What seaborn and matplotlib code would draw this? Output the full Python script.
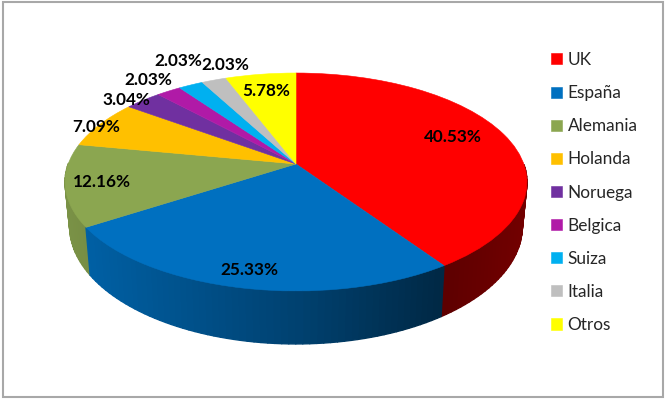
import numpy as np
import matplotlib
matplotlib.use('Agg')
import matplotlib.pyplot as plt
import matplotlib.transforms as mtrans
from matplotlib.collections import PolyCollection
from matplotlib.patches import Rectangle
import seaborn as sns

# datos
countries = ['UK', 'España', 'Alemania', 'Holanda', 'Noruega', 'Belgica', 'Suiza', 'Italia', 'Otros']
shares = [40.53, 25.33, 12.16, 7.09, 3.04, 2.03, 2.03, 2.03, 5.78]
slice_colors = ['#FF0000', '#0070C0', '#8BA650', '#FFC000', '#7030A0', '#B01AA7', '#00B0F0', '#BFBFBF', '#FFFF00']

# posicion de las etiquetas en pixeles
label_x = [453, 249, 102, 96, 126, 148, 178, 225, 266]
label_y = [137, 270, 182, 127, 100, 80, 61, 65, 91]

# perspectiva del disco: centro (296,164), en pixeles
CX, CY = 296, 164
A, B, K = 227.8, 106.0, 0.165


class DiscProjection(mtrans.Transform):
    input_dims = output_dims = 2

    def transform_non_affine(self, xy):
        xy = np.asarray(xy)
        w = 1 + K * xy[:, 1]
        return np.column_stack([CX + A * xy[:, 0] / w, CY - B * xy[:, 1] / w])


def to_bottom(xy):
    # cara inferior del cilindro
    x = CX + 0.98 * (xy[:, 0] - CX)
    y = xy[:, 1] + 53 - (291 - xy[:, 1]) * 0.08
    return np.column_stack([x, y])


def side_shade(x):
    return np.interp(x, [65, 91, 300, 440, 527], [0.88, 0.85, 0.58, 0.36, 0.45])


sns.set_theme(style='white')
plt.rcParams['font.family'] = ['Lato', 'DejaVu Sans']
palette = sns.color_palette(slice_colors)

fig, ax = plt.subplots(figsize=(6.66, 4.0), dpi=100)
fig.subplots_adjust(0, 0, 1, 1)

wedges, _ = ax.pie(shares, colors=palette, startangle=90, counterclock=False, radius=1,
                   wedgeprops={'linewidth': 0.4})
ax.set_aspect('auto')
ax.set_xlim(0, 666)
ax.set_ylim(400, 0)
ax.axis('off')

proj = DiscProjection()

# paredes laterales
polys, polys_col, polys_v = [], [], []
for w, col in zip(wedges, palette):
    th = np.radians(np.append(np.arange(w.theta1, w.theta2, 1.5), w.theta2))
    unit = np.column_stack([np.cos(th), np.sin(th)])
    top = proj.transform_non_affine(unit)
    bot = to_bottom(top)
    for i in range(len(th) - 1):
        v = unit[i:i + 2, 1].mean()
        if v > 0:
            continue
        xm = top[i:i + 2, 0].mean()
        polys.append([top[i], top[i + 1], bot[i + 1], bot[i]])
        polys_col.append(tuple(c * side_shade(xm) for c in col))
        polys_v.append(v)
order = np.argsort(polys_v)[::-1]
walls = PolyCollection([polys[i] for i in order], facecolors=[polys_col[i] for i in order],
                       edgecolors='face', linewidths=1.0, zorder=1)
ax.add_collection(walls)

# cara superior
for w in wedges:
    w.set_transform(proj + ax.transData)
    w.set_edgecolor(w.get_facecolor())
    w.set_zorder(2)
    w.set_clip_on(False)

for val, lx, ly in zip(shares, label_x, label_y):
    ax.text(lx, ly, f'{val:.2f}%', ha='center', va='center', fontsize=12.3,
            fontweight='bold', color='black', zorder=3)

ax.legend(wedges, countries, loc='upper left', bbox_to_anchor=(0.828, 0.87), frameon=False,
          fontsize=12.4, labelspacing=0.995, handlelength=0.61, handleheight=0.61,
          handletextpad=0.32, borderpad=0, borderaxespad=0)

# marco
ax.add_patch(Rectangle((3, 1.5), 659.5, 395.5, fill=False, edgecolor='#A8A8A8', linewidth=1.5,
                       zorder=0))

fig.savefig('out.png', dpi=100)
